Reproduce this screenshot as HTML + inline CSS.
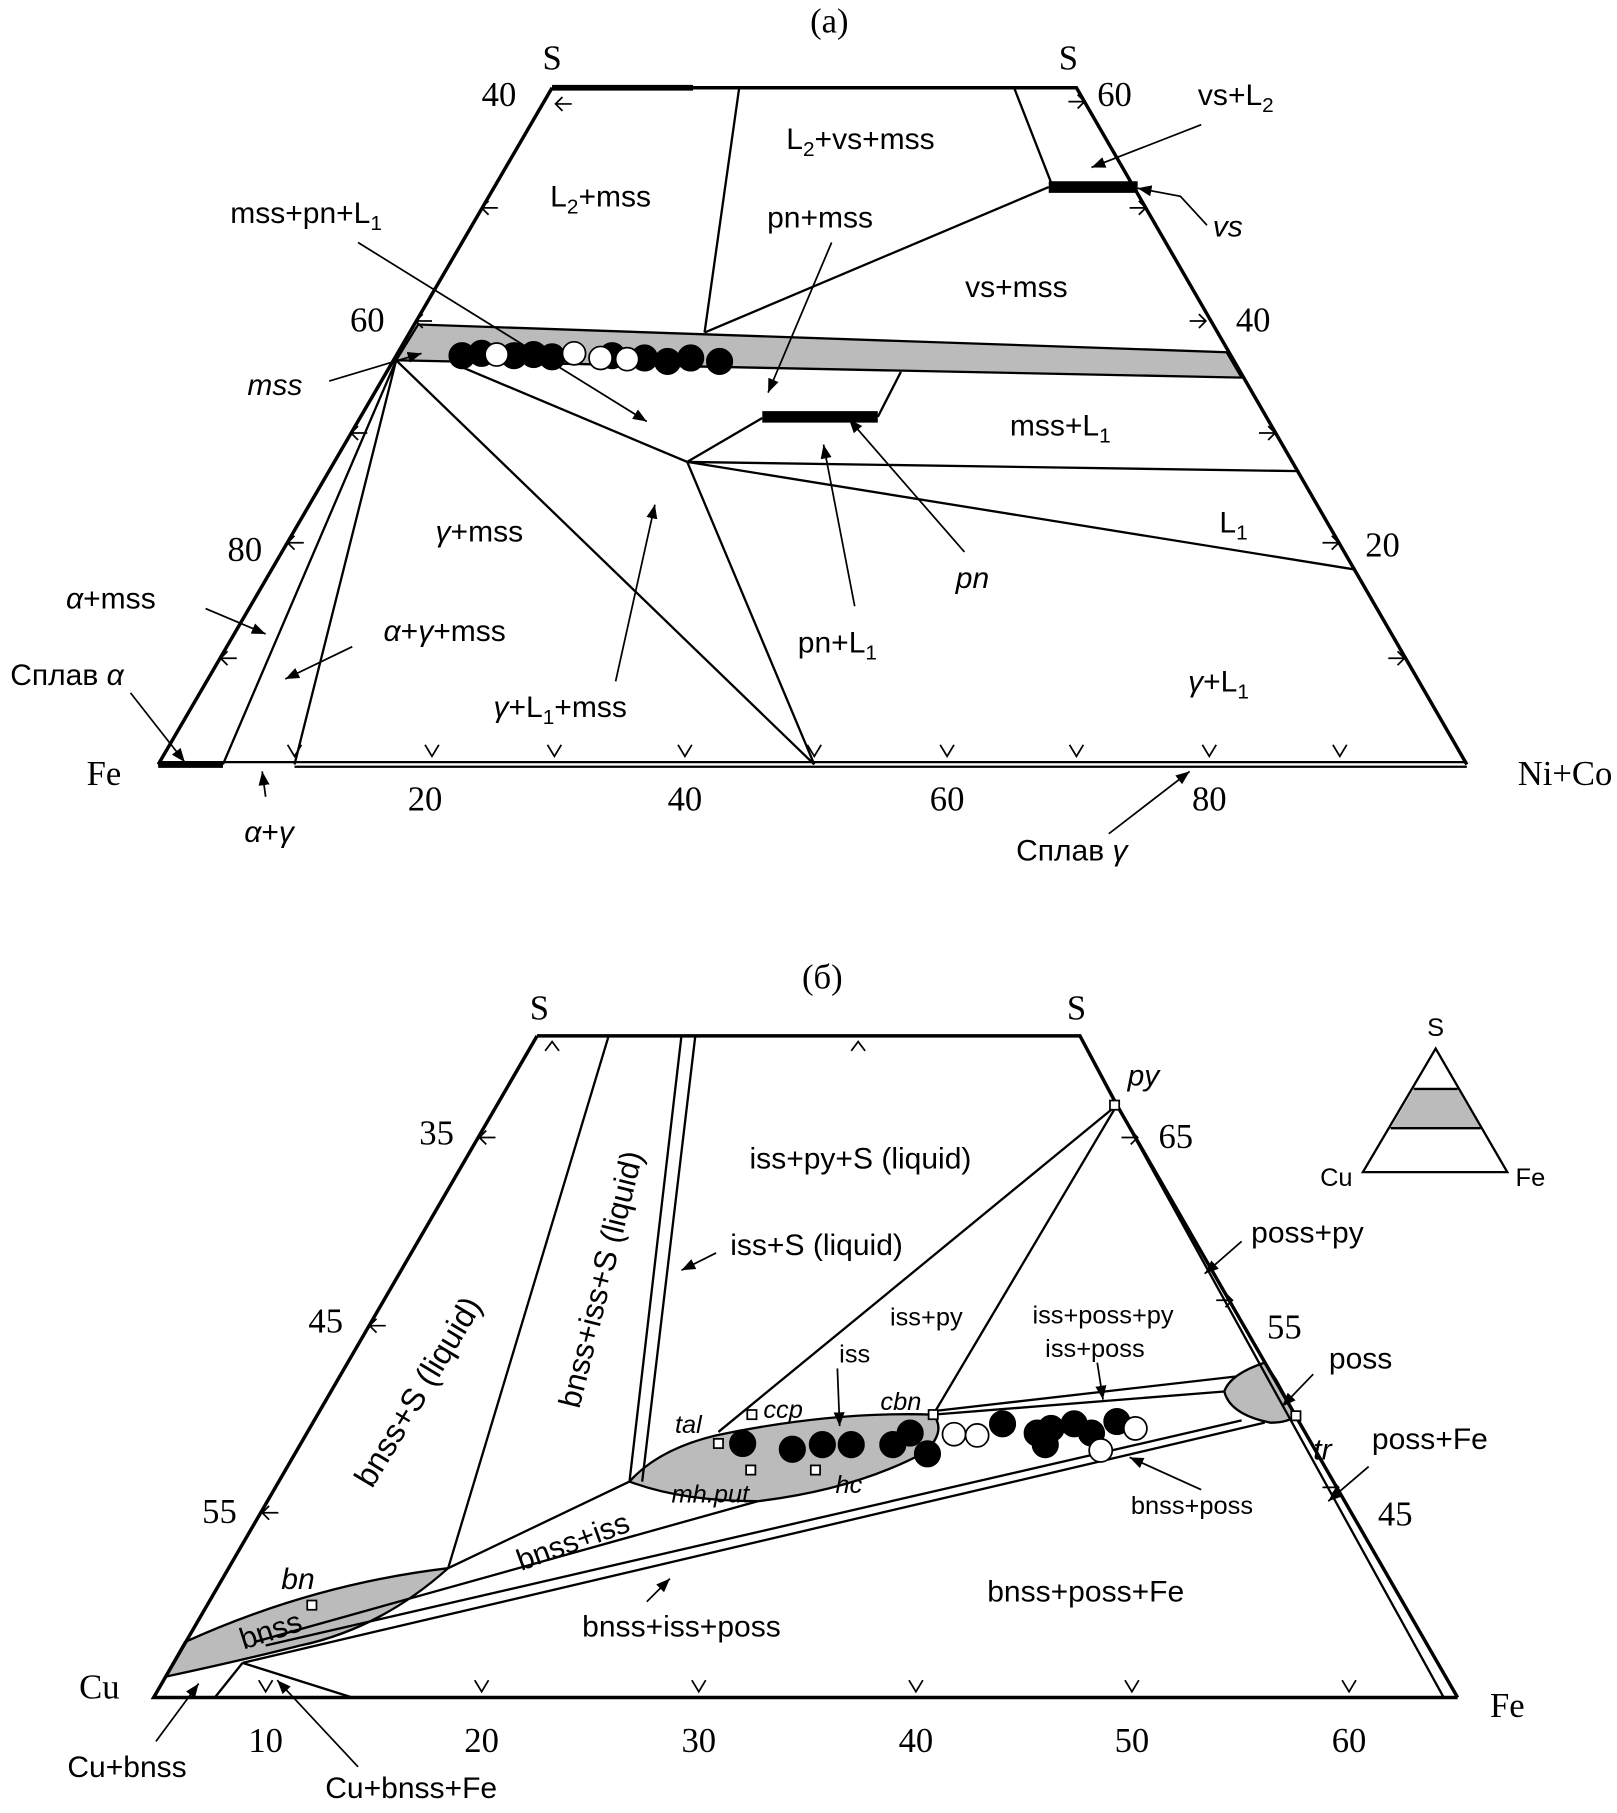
<!DOCTYPE html>
<html><head><meta charset="utf-8"><style>
html,body{margin:0;padding:0;background:#fff}
svg{display:block}
.s{font-family:"Liberation Sans",sans-serif;font-size:26px;fill:#000}
.i{font-style:italic}
.r{font-family:"Liberation Serif",serif;font-size:30px;fill:#000}
.sub{font-size:18px}
</style></head><body>
<svg width="1617" height="1813" viewBox="0 0 1400 1570" preserveAspectRatio="none" xmlns="http://www.w3.org/2000/svg">
<defs><marker id="a" viewBox="0 0 10 10" refX="10" refY="5" markerWidth="8" markerHeight="8" orient="auto"><path d="M0,1 L10,5 L0,9 z" fill="#000"/></marker></defs>
<g stroke="#000" fill="none" stroke-width="2">
<!-- (a) -->
<polygon points="362,281 1062,305 1075,327 343,312" fill="#bbb" stroke="#000"/>
<path d="M478,76 L932,76 L1270,662 M478,76 L137,662" stroke-width="3"/>
<path d="M478,76 L600,76" stroke-width="5"/>
<path d="M137,660 L1270,660 M255,664 L1270,664 M137,664 L193,664" />
<path d="M137,662 L193,662" stroke-width="4"/>
<path d="M640,76 L610,288 M878,76 L910,158 M610,288 L908,162"/>
<path d="M908,162 L985,162" stroke-width="10"/>
<path d="M343,312 L193,662 M343,312 L255,662 M343,312 L705,662 M400,318 L595,400 L705,662 M595,400 L660,362 M595,400 L1125,408 M595,400 L1172,493 M760,361 L780,322"/>
<path d="M660,361 L760,361" stroke-width="10"/>
<g stroke-width="1.5">
<path d="M1040,108 L945,145" marker-end="url(#a)"/>
<path d="M1045,195 L1022,170 L985,163" marker-end="url(#a)"/>
<path d="M720,210 L665,340" marker-end="url(#a)"/>
<path d="M310,210 L560,365" marker-end="url(#a)"/>
<path d="M285,330 L365,306" marker-end="url(#a)"/>
<path d="M835,478 L735,363" marker-end="url(#a)"/>
<path d="M740,525 L713,385" marker-end="url(#a)"/>
<path d="M533,590 L567,437" marker-end="url(#a)"/>
<path d="M305,560 L247,588" marker-end="url(#a)"/>
<path d="M178,527 L230,549" marker-end="url(#a)"/>
<path d="M113,600 L160,660" marker-end="url(#a)"/>
<path d="M230,690 L227,668" marker-end="url(#a)"/>
<path d="M960,722 L1030,668" marker-end="url(#a)"/>
</g>
<g stroke-width="1.5">
<path d="M368,645 l6,10 l6,-10 M474,645 l6,10 l6,-10 M587,645 l6,10 l6,-10 M699,645 l6,10 l6,-10 M814,645 l6,10 l6,-10 M926,645 l6,10 l6,-10 M1041,645 l6,10 l6,-10 M1154,645 l6,10 l6,-10 M249,645 l6,10 l6,-10"/>
<path d="M487,84 l-6,6 l6,6 M481,90 l14,0 M423,174 l-6,6 l6,6 M417,180 l14,0 M366,272 l-6,6 l6,6 M360,278 l14,0 M310,369 l-6,6 l6,6 M304,375 l14,0 M255,464 l-6,6 l6,6 M249,470 l14,0 M197,564 l-6,6 l6,6 M191,570 l14,0"/>
<path d="M933,82 l6,6 l-6,6 M925,88 l14,0 M986,174 l6,6 l-6,6 M978,180 l14,0 M1038,272 l6,6 l-6,6 M1030,278 l14,0 M1098,369 l6,6 l-6,6 M1090,375 l14,0 M1153,464 l6,6 l-6,6 M1145,470 l14,0 M1210,564 l6,6 l-6,6 M1202,570 l14,0"/>
</g>
<g fill="#000" stroke="#000" stroke-width="1.5">
<circle cx="400" cy="308" r="11"/><circle cx="417" cy="306" r="11"/><circle cx="445" cy="308" r="11"/><circle cx="462" cy="307" r="11"/><circle cx="478" cy="309" r="11"/><circle cx="530" cy="308" r="11"/><circle cx="558" cy="310" r="11"/><circle cx="578" cy="313" r="11"/><circle cx="598" cy="310" r="11"/><circle cx="623" cy="313" r="11"/>
<circle cx="430" cy="307" r="10" fill="#fff"/><circle cx="497" cy="306" r="10" fill="#fff"/><circle cx="520" cy="310" r="10" fill="#fff"/><circle cx="543" cy="311" r="10" fill="#fff"/>
</g>
<!-- (б) -->
<path d="M143,1452 L160,1422 Q270,1372 388,1358 Q330,1410 260,1425 Q200,1440 143,1452 Z" fill="#bbb"/>
<path d="M545,1283 Q570,1255 620,1243 Q720,1222 808,1225 Q820,1240 800,1258 Q740,1290 656,1300 Q590,1300 545,1283 Z" fill="#bbb"/>
<path d="M1095,1180 Q1065,1190 1060,1205 Q1065,1225 1100,1232 Q1115,1232 1122,1226 L1105,1195 Z" fill="#bbb"/>
<path d="M465,897 L935,897 L967,957 L1262,1470 M465,897 L133,1470 L1262,1470" stroke-width="3"/>
<path d="M967,957 L1250,1470"/>
<path d="M527,897 L388,1358 M590,897 L545,1283 M602,897 L556,1283 M967,957 L622,1240 M967,957 L808,1225 M388,1358 L545,1283 M808,1222 L1070,1192 M1095,1232 L210,1440 M1075,1230 L230,1425 M656,1300 L220,1422 M808,1225 L1060,1205 M210,1440 L305,1470 M210,1440 L186,1470"/>
<g stroke-width="1.5">
<path d="M620,1085 L590,1100" marker-end="url(#a)"/>
<path d="M725,1185 L727,1235" marker-end="url(#a)"/>
<path d="M950,1180 L955,1212" marker-end="url(#a)"/>
<path d="M1075,1075 L1043,1103" marker-end="url(#a)"/>
<path d="M1137,1190 L1110,1218" marker-end="url(#a)"/>
<path d="M1185,1270 L1150,1300" marker-end="url(#a)"/>
<path d="M1040,1290 L978,1262" marker-end="url(#a)"/>
<path d="M560,1387 L580,1367" marker-end="url(#a)"/>
<path d="M135,1508 L172,1458" marker-end="url(#a)"/>
<path d="M310,1530 L240,1455" marker-end="url(#a)"/>
</g>
<g stroke-width="1.5">
<path d="M224,1455 l6,10 l6,-10 M411,1455 l6,10 l6,-10 M599,1455 l6,10 l6,-10 M787,1455 l6,10 l6,-10 M974,1455 l6,10 l6,-10 M1162,1455 l6,10 l6,-10"/>
<path d="M737,910 l6,-8 l6,8 M472,910 l6,-8 l6,8"/>
<path d="M421,979 l-6,6 l6,6 M415,985 l14,0 M326,1142 l-6,6 l6,6 M320,1148 l14,0 M233,1304 l-6,6 l6,6 M227,1310 l14,0"/>
<path d="M979,979 l6,6 l-6,6 M971,985 l14,0 M1061,1120 l6,6 l-6,6 M1053,1126 l14,0 M1153,1282 l6,6 l-6,6 M1145,1288 l14,0"/>
</g>
<g fill="#000" stroke="#000" stroke-width="1.5">
<circle cx="643" cy="1250" r="11"/><circle cx="686" cy="1255" r="11"/><circle cx="712" cy="1251" r="11"/><circle cx="737" cy="1251" r="11"/><circle cx="773" cy="1251" r="11"/><circle cx="788" cy="1241" r="11"/><circle cx="803" cy="1259" r="11"/><circle cx="868" cy="1233" r="11"/><circle cx="898" cy="1241" r="11"/><circle cx="905" cy="1251" r="11"/><circle cx="910" cy="1237" r="11"/><circle cx="930" cy="1233" r="11"/><circle cx="945" cy="1241" r="11"/><circle cx="967" cy="1231" r="11"/>
<circle cx="826" cy="1242" r="10" fill="#fff"/><circle cx="846" cy="1243" r="10" fill="#fff"/><circle cx="953" cy="1256" r="10" fill="#fff"/><circle cx="983" cy="1237" r="10" fill="#fff"/>
</g>
<g fill="#fff" stroke-width="1.5">
<rect x="618" y="1246" width="8" height="8"/><rect x="647" y="1221" width="8" height="8"/><rect x="646" y="1269" width="8" height="8"/><rect x="702" y="1269" width="8" height="8"/><rect x="804" y="1221" width="8" height="8"/><rect x="961" y="953" width="8" height="8"/><rect x="266" y="1386" width="8" height="8"/><rect x="1118" y="1222" width="8" height="8"/>
</g>
<!-- inset -->
<polygon points="1224,943 1262,943 1282,977 1204,977" fill="#bbb" stroke="none"/>
<path d="M1243,908 L1180,1015 L1305,1015 Z M1224,943 L1262,943 M1204,977 L1282,977"/>
</g>
<!-- text (a) -->
<text class="r" x="718" y="28" text-anchor="middle">(a)</text>
<text class="r" x="478" y="60" text-anchor="middle">S</text>
<text class="r" x="925" y="60" text-anchor="middle">S</text>
<text class="r" x="432" y="92" text-anchor="middle">40</text>
<text class="r" x="965" y="92" text-anchor="middle">60</text>
<text class="r" x="318" y="287" text-anchor="middle">60</text>
<text class="r" x="1085" y="287" text-anchor="middle">40</text>
<text class="r" x="212" y="486" text-anchor="middle">80</text>
<text class="r" x="1197" y="482" text-anchor="middle">20</text>
<text class="r" x="90" y="680" text-anchor="middle">Fe</text>
<text class="r" x="1355" y="680" text-anchor="middle">Ni+Co</text>
<text class="r" x="368" y="702" text-anchor="middle">20</text>
<text class="r" x="593" y="702" text-anchor="middle">40</text>
<text class="r" x="820" y="702" text-anchor="middle">60</text>
<text class="r" x="1047" y="702" text-anchor="middle">80</text>
<g class="s" text-anchor="middle">
<text x="520" y="179">L<tspan class="sub" dy="6">2</tspan><tspan dy="-6">+mss</tspan></text>
<text x="745" y="129">L<tspan class="sub" dy="6">2</tspan><tspan dy="-6">+vs+mss</tspan></text>
<text x="1070" y="91">vs+L<tspan class="sub" dy="6">2</tspan></text>
<text x="1063" y="205" class="i">vs</text>
<text x="710" y="197">pn+mss</text>
<text x="880" y="257">vs+mss</text>
<text x="265" y="193">mss+pn+L<tspan class="sub" dy="6">1</tspan></text>
<text x="238" y="342" class="i">mss</text>
<text x="918" y="377">mss+L<tspan class="sub" dy="6">1</tspan></text>
<text x="1068" y="461">L<tspan class="sub" dy="6">1</tspan></text>
<text x="415" y="469"><tspan class="i">γ</tspan>+mss</text>
<text x="842" y="509" class="i">pn</text>
<text x="725" y="565">pn+L<tspan class="sub" dy="6">1</tspan></text>
<text x="485" y="621"><tspan class="i">γ</tspan>+L<tspan class="sub" dy="6">1</tspan><tspan dy="-6">+mss</tspan></text>
<text x="385" y="555"><tspan class="i">α</tspan>+<tspan class="i">γ</tspan>+mss</text>
<text x="96" y="527"><tspan class="i">α</tspan>+mss</text>
<text x="58" y="593">Сплав <tspan class="i">α</tspan></text>
<text x="233" y="729"><tspan class="i">α</tspan>+<tspan class="i">γ</tspan></text>
<text x="928" y="745">Сплав <tspan class="i">γ</tspan></text>
<text x="1055" y="599"><tspan class="i">γ</tspan>+L<tspan class="sub" dy="6">1</tspan></text>
</g>
<!-- text (б) -->
<text class="r" x="712" y="856" text-anchor="middle">(б)</text>
<text class="r" x="467" y="883" text-anchor="middle">S</text>
<text class="r" x="932" y="883" text-anchor="middle">S</text>
<text class="r" x="378" y="991" text-anchor="middle">35</text>
<text class="r" x="282" y="1154" text-anchor="middle">45</text>
<text class="r" x="190" y="1319" text-anchor="middle">55</text>
<text class="r" x="1018" y="994" text-anchor="middle">65</text>
<text class="r" x="1112" y="1159" text-anchor="middle">55</text>
<text class="r" x="1208" y="1321" text-anchor="middle">45</text>
<text class="r" x="230" y="1517" text-anchor="middle">10</text>
<text class="r" x="417" y="1517" text-anchor="middle">20</text>
<text class="r" x="605" y="1517" text-anchor="middle">30</text>
<text class="r" x="793" y="1517" text-anchor="middle">40</text>
<text class="r" x="980" y="1517" text-anchor="middle">50</text>
<text class="r" x="1168" y="1517" text-anchor="middle">60</text>
<text class="r" x="86" y="1471" text-anchor="middle">Cu</text>
<text class="r" x="1305" y="1487" text-anchor="middle">Fe</text>
<g class="s" text-anchor="middle">
<text x="745" y="1012">iss+py+S (liquid)</text>
<text x="707" y="1087">iss+S (liquid)</text>
<text transform="translate(370,1210) rotate(-59)" font-size="28">bnss+S (liquid)</text>
<text transform="translate(529,1110) rotate(-76)" font-size="27">bnss+iss+S (liquid)</text>
<text x="802" y="1148" font-size="22">iss+py</text>
<text x="740" y="1180" font-size="22">iss</text>
<text x="955" y="1146" font-size="22">iss+poss+py</text>
<text x="948" y="1175" font-size="22">iss+poss</text>
<text x="1132" y="1076">poss+py</text>
<text x="1178" y="1185">poss</text>
<text x="1238" y="1255">poss+Fe</text>
<text x="1032" y="1311" font-size="22">bnss+poss</text>
<text x="940" y="1387">bnss+poss+Fe</text>
<text transform="translate(499,1343) rotate(-20)">bnss+iss</text>
<text x="590" y="1417">bnss+iss+poss</text>
<text transform="translate(237,1420) rotate(-18)">bnss</text>
<text x="258" y="1376" class="i">bn</text>
<text x="110" y="1539">Cu+bnss</text>
<text x="356" y="1557">Cu+bnss+Fe</text>
<text x="596" y="1241" class="i" font-size="22">tal</text>
<text x="678" y="1228" class="i" font-size="22">ccp</text>
<text x="615" y="1301" class="i" font-size="22">mh.put</text>
<text x="735" y="1293" class="i" font-size="22">hc</text>
<text x="780" y="1221" class="i" font-size="22">cbn</text>
<text x="990" y="940" class="i">py</text>
<text x="1145" y="1264" class="i">tr</text>
<text x="1243" y="897" font-size="22">S</text>
<text x="1157" y="1027" font-size="22">Cu</text>
<text x="1325" y="1027" font-size="22">Fe</text>
</g>
</svg>
</body></html>
